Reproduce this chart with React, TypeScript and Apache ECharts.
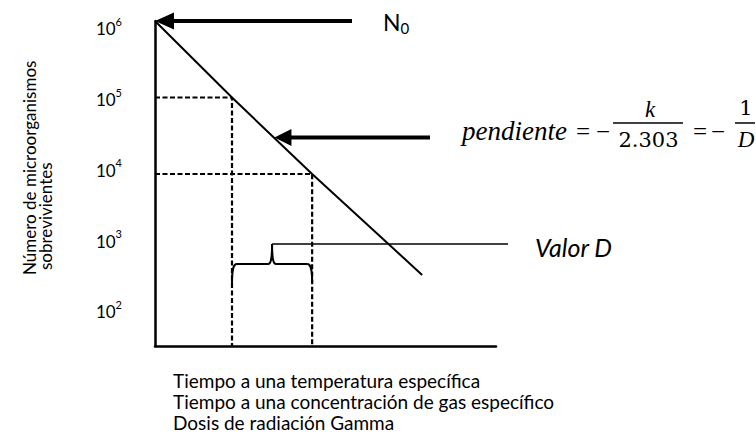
import React, { useEffect, useRef } from "react";
import * as echarts from "echarts";

// ---- data ----
const timeValues = [0, 0.98, 2.0, 3.4];           // time / dose (units of D)
const survivors = [1e6, 1e5, 1e4, 480];           // surviving microorganisms
const dashTimes = [0.98, 2.0];                     // reading lines
const dashCounts = [1e5, 1e4];
const tickExponents = [2, 3, 4, 5, 6];             // 10^n tick labels
const yTitleLines = ["Número de microorganismos", "sobrevivientes"];
const xTitleLines = [
  "Tiempo a una temperatura específica",
  "Tiempo a una concentración de gas específico",
  "Dosis de radiación Gamma",
];
const slopeArrowAt = [1.52, 30000];
const xMax = 4.34;
const yMinExp = 1.752;
const yMaxExp = 6;
const labelMinExp = 1.518;
const labelMaxExp = 6.109;

export default function App() {
  const ref = useRef<HTMLDivElement>(null);
  useEffect(() => {
    document.body.style.margin = "0";
    const chart = echarts.init(ref.current!, undefined, { renderer: "svg" });
    const lineData = timeValues.map((t, i) => [t, Math.log10(survivors[i])]);
    const dashSeries = dashTimes.map((t, i) => ({
      type: "line",
      yAxisIndex: 0,
      symbol: "none",
      silent: true,
      data: [
        [0, Math.log10(dashCounts[i])],
        [t, Math.log10(dashCounts[i])],
        [t, yMinExp],
      ],
      lineStyle: { color: "#000", width: 2.2, type: [5, 2.5] },
    }));
    chart.setOption({
      animation: false,
      backgroundColor: "#fff",
      grid: { left: 155, top: 21, width: 341, height: 325, containLabel: false },
      xAxis: {
        type: "value",
        min: 0,
        max: xMax,
        axisLine: { show: true, onZero: false, lineStyle: { color: "#000", width: 2.5 } },
        axisTick: { show: false },
        axisLabel: { show: false },
        splitLine: { show: false },
      },
      yAxis: [
        {
          type: "value",
          min: yMinExp,
          max: yMaxExp,
          axisLine: { show: true, onZero: false, lineStyle: { color: "#000", width: 2.5 } },
          axisTick: { show: false },
          axisLabel: { show: false },
          splitLine: { show: false },
        },
        {
          type: "value",
          position: "left",
          min: labelMinExp,
          max: labelMaxExp,
          axisLine: { show: false },
          axisTick: { show: false },
          splitLine: { show: false },
          axisLabel: {
            show: true,
            customValues: tickExponents,
            margin: 33,
            formatter: (v: number) => `{b|10}{s|${Math.round(v)}}`,
            rich: {
              b: { fontSize: 17, fontFamily: "Lato", lineHeight: 26, color: "#000" },
              s: { fontSize: 11, fontFamily: "Lato", lineHeight: 9, verticalAlign: "top", color: "#000" },
            },
          },
        },
      ],
      series: [
        {
          type: "line",
          yAxisIndex: 0,
          symbol: "none",
          silent: true,
          data: lineData,
          lineStyle: { color: "#000", width: 2 },
        },
        ...dashSeries,
      ],
    });

    const P = (t: number, n: number) =>
      chart.convertToPixel({ xAxisIndex: 0, yAxisIndex: 0 }, [t, Math.log10(n)]) as number[];

    const arrow = (tip: number[], length: number, headLen: number, half: number, w: number) => [
      {
        type: "line",
        shape: { x1: tip[0] + headLen - 1, y1: tip[1], x2: tip[0] + length, y2: tip[1] },
        style: { stroke: "#000", lineWidth: w },
      },
      {
        type: "polygon",
        shape: {
          points: [
            [tip[0], tip[1]],
            [tip[0] + headLen, tip[1] - half],
            [tip[0] + headLen, tip[1] + half],
          ],
        },
        style: { fill: "#000" },
      },
    ];

    const txt = (
      text: string,
      x: number,
      y: number,
      fontSize: number,
      fontFamily: string,
      opts: any = {}
    ) => ({
      type: "text",
      x,
      y,
      rotation: opts.rotation || 0,
      style: {
        text,
        fontSize,
        fontFamily,
        fontStyle: opts.italic ? "italic" : "normal",
        fill: "#000",
        align: opts.align || "left",
        textAlign: opts.align || "left",
        verticalAlign: "middle",
        textVerticalAlign: "middle",
        lineHeight: opts.lineHeight,
        rich: opts.rich,
      },
    });

    const top = P(0, survivors[0]);
    const slopeTip = P(slopeArrowAt[0], slopeArrowAt[1]);
    const xL = P(dashTimes[0], dashCounts[0])[0];
    const xR = P(dashTimes[1], dashCounts[1])[0];
    const xMid = (xL + xR) / 2;
    const yBot = 283;
    const yBar = 264;
    const yTip = 244;
    const braceStyle = { stroke: "#000", lineWidth: 2, fill: null };

    const graphic: any[] = [
      ...arrow(top, 197, 19, 8.5, 4),
      ...arrow(slopeTip, 430 - slopeTip[0], 17, 8.5, 4),
      // brace
      {
        type: "bezierCurve",
        shape: { x1: xL, y1: yBot, cpx1: xL, cpy1: yBar + 6, cpx2: xL + 1, cpy2: yBar, x2: xL + 5, y2: yBar },
        style: braceStyle,
      },
      { type: "line", shape: { x1: xL + 5, y1: yBar, x2: xMid - 4, y2: yBar }, style: braceStyle },
      {
        type: "bezierCurve",
        shape: { x1: xMid - 4, y1: yBar, cpx1: xMid - 1, cpy1: yBar, cpx2: xMid, cpy2: yBar - 6, x2: xMid, y2: yTip },
        style: braceStyle,
      },
      {
        type: "bezierCurve",
        shape: { x1: xMid, y1: yTip, cpx1: xMid, cpy1: yBar - 6, cpx2: xMid + 1, cpy2: yBar, x2: xMid + 4, y2: yBar },
        style: braceStyle,
      },
      { type: "line", shape: { x1: xMid + 4, y1: yBar, x2: xR - 5, y2: yBar }, style: braceStyle },
      {
        type: "bezierCurve",
        shape: { x1: xR - 5, y1: yBar, cpx1: xR - 1, cpy1: yBar, cpx2: xR, cpy2: yBar + 6, x2: xR, y2: yBot },
        style: braceStyle,
      },
      { type: "line", shape: { x1: xMid, y1: yTip, x2: 508, y2: yTip }, style: { stroke: "#000", lineWidth: 1.6 } },
      // labels
      txt("{n|N}{s|0}", 383, 22, 23, "Lato", {
        rich: {
          n: { fontSize: 23, fontFamily: "Lato", lineHeight: 26, fill: "#000" },
          s: { fontSize: 15, fontFamily: "Lato", lineHeight: 9, verticalAlign: "bottom", fill: "#000" },
        },
      }),
      txt("Valor D", 535, 246.5, 25, "Lato", { italic: true }),
      // formula
      txt("pendiente", 462, 131, 27, "Liberation Serif", { italic: true }),
      txt("=", 576, 131, 25, "Liberation Serif"),
      txt("\u2212", 596, 131, 25, "Liberation Serif"),
      txt("k", 650, 109.2, 23, "Liberation Serif", { italic: true, align: "center" }),
      txt("2.303", 648.5, 139.7, 21, "DejaVu Serif", { align: "center" }),
      { type: "line", shape: { x1: 613, y1: 123, x2: 683, y2: 123 }, style: { stroke: "#000", lineWidth: 1.5 } },
      txt("=", 693, 131, 25, "Liberation Serif"),
      txt("\u2212", 711, 131, 25, "Liberation Serif"),
      txt("1", 746, 107.7, 21, "DejaVu Serif", { align: "center" }),
      txt("D", 746, 139.2, 23, "Liberation Serif", { italic: true, align: "center" }),
      { type: "line", shape: { x1: 735, y1: 123, x2: 755, y2: 123 }, style: { stroke: "#000", lineWidth: 1.5 } },
      // axis titles
      txt(yTitleLines[0], 29, 275, 17, "Lato", { rotation: Math.PI / 2 }),
      txt(yTitleLines[1], 45, 270, 17, "Lato", { rotation: Math.PI / 2 }),
      txt(xTitleLines.join("\n"), 173, 401, 19, "Lato", { lineHeight: 21 }),
    ];
    chart.setOption({ graphic });
    return () => chart.dispose();
  }, []);
  return (
    <div
      ref={ref}
      style={{ position: "absolute", left: 0, top: 0, width: 756, height: 440, background: "#fff" }}
    />
  );
}
